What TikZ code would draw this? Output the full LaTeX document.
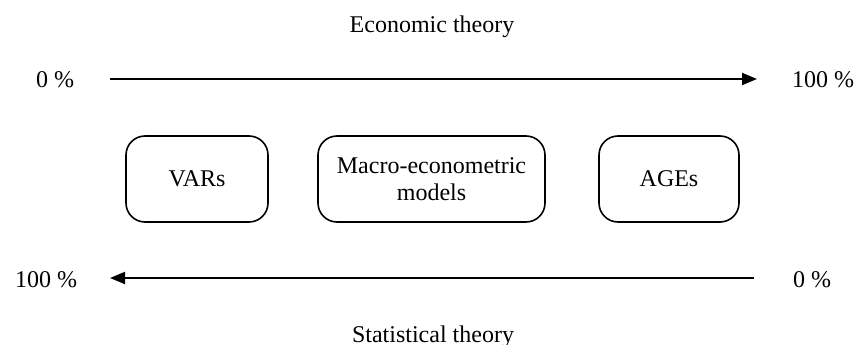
\documentclass[tikz,border=0pt]{standalone}
\usepackage{fontspec}
\setmainfont{Liberation Serif}
\usetikzlibrary{arrows.meta}
\begin{document}
\begin{tikzpicture}[x=1pt,y=-1pt,
  lbl/.style={font=\fontsize{24}{28}\selectfont, inner sep=0pt, anchor=base},
  modelbox/.style={draw, line width=1.6pt, rounded corners=19pt, minimum height=86pt, align=center, inner sep=0pt, font=\fontsize{24}{27.5}\selectfont},
  axis/.style={line width=1.8pt, -{Triangle[length=15pt,width=12pt]}}]
\useasboundingbox (0,0) rectangle (857,345);
\node[lbl] (econ) at (432,33) {Economic theory};
\node[lbl] (t0) at (55,88) {0 \%};
\node[lbl] (t100) at (823,88) {100 \%};
\coordinate (ta) at (110,79);
\coordinate (tb) at (757,79);
\draw[axis] (ta) -- (tb);
\node[modelbox, minimum width=142pt] (vars) at (197,179) {VARs};
\node[modelbox, minimum width=227pt] (macro) at (431.5,179) {Macro-econometric\\models};
\node[modelbox, minimum width=140pt] (ages) at (669,179) {AGEs};
\node[lbl] (b100) at (46,287) {100 \%};
\node[lbl] (b0) at (812,287) {0 \%};
\coordinate (ba) at (754,278);
\coordinate (bb) at (110,278);
\draw[axis] (ba) -- (bb);
\node[lbl] (stat) at (433,342) {Statistical theory};
\end{tikzpicture}
\end{document}
